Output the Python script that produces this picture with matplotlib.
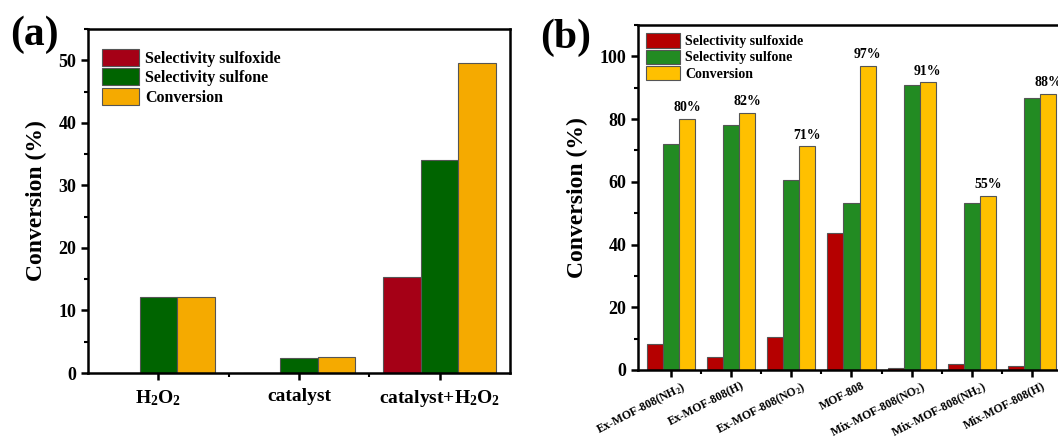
import matplotlib
matplotlib.use("Agg")
import matplotlib.pyplot as plt
from matplotlib.ticker import MultipleLocator, FixedLocator
from matplotlib.transforms import ScaledTranslation
import numpy as np

plt.rcParams['font.family'] = ['Liberation Serif', 'DejaVu Serif']
plt.rcParams['font.weight'] = 'bold'
plt.rcParams['axes.labelweight'] = 'bold'
plt.rcParams['mathtext.fontset'] = 'custom'
plt.rcParams['mathtext.rm'] = 'Liberation Serif:bold'
plt.rcParams['mathtext.it'] = 'Liberation Serif:bold'
plt.rcParams['mathtext.bf'] = 'Liberation Serif:bold'

series_names = ['Selectivity sulfoxide', 'Selectivity sulfone', 'Conversion']

# panel (a)
cats_a = ['H$_2$O$_2$', 'catalyst', 'catalyst+H$_2$O$_2$']
sulfoxide_a = [0, 0, 15.4]
sulfone_a = [12.2, 2.4, 34.1]
conversion_a = [12.2, 2.5, 49.6]

# panel (b)
cats_b = ['Ex-MOF-808(NH$_2$)', 'Ex-MOF-808(H)', 'Ex-MOF-808(NO$_2$)', 'MOF-808',
          'Mix-MOF-808(NO$_2$)', 'Mix-MOF-808(NH$_2$)', 'Mix-MOF-808(H)']
sulfoxide_b = [8.3, 4.1, 10.5, 43.7, 0.6, 1.9, 1.3]
sulfone_b = [71.9, 78.0, 60.6, 53.3, 91.0, 53.3, 86.7]
conversion_b = [80.0, 82.0, 71.3, 97.0, 91.7, 55.5, 88.0]
conv_labels_b = ['80%', '82%', '71%', '97%', '91%', '55%', '88%']

colors_a = ['#A50016', '#006400', '#F5AA00']
colors_b = ['#B50000', '#228B22', '#FFC000']

fig = plt.figure(figsize=(10.58, 4.38), dpi=100)
ax_a = fig.add_axes([88/1058, 1 - 373/438, 422/1058, 344/438])
ax_b = fig.add_axes([638/1058, 1 - 370/438, 430/1058, 345/438])


def style_axes(ax):
    for sp in ax.spines.values():
        sp.set_linewidth(1.8)
    ax.tick_params(which='major', direction='out', length=5, width=1.8)
    ax.tick_params(which='minor', direction='out', length=3, width=1.5)


def draw_groups(ax, data, colors, w=0.8 / 3):
    x = np.arange(len(data[0]))
    bars = []
    for i, (vals, c, name) in enumerate(zip(data, colors, series_names)):
        b = ax.bar(x + (i - 1) * w, vals, w, color=c, edgecolor='#555555',
                   linewidth=0.8, label=name)
        bars.append(b)
    return x, bars


# ---- (a)
x, _ = draw_groups(ax_a, [sulfoxide_a, sulfone_a, conversion_a], colors_a)
ax_a.set_xlim(-0.5, 2.5)
ax_a.set_ylim(0, 55)
ax_a.set_xticks(x)
ax_a.set_xticklabels(cats_a, fontsize=14)
ax_a.xaxis.set_minor_locator(FixedLocator([0.5, 1.5]))
ax_a.yaxis.set_major_locator(MultipleLocator(10))
ax_a.yaxis.set_minor_locator(MultipleLocator(5))
ax_a.tick_params(axis='y', labelsize=13)
style_axes(ax_a)
ax_a.tick_params(axis='x', which='major', pad=6)
ax_a.set_ylabel('Conversion (%)', fontsize=17, labelpad=8)
ax_a.legend(loc='upper left', bbox_to_anchor=(0.01, 0.97), frameon=False,
            fontsize=11.5, handlelength=2.3, handleheight=1.25,
            handletextpad=0.4, labelspacing=0.1, borderaxespad=0.2)
fig.text(10/1058, 1 - 35/438, '(a)', fontsize=30, va='center', ha='left')

# ---- (b)
x, bars = draw_groups(ax_b, [sulfoxide_b, sulfone_b, conversion_b], colors_b)
for rect, lab in zip(bars[2], conv_labels_b):
    ax_b.text(rect.get_x() + rect.get_width() / 2, rect.get_height() + 1.5, lab,
              ha='center', va='bottom', fontsize=10)
ax_b.set_xlim(-0.55, 6.6)
ax_b.set_ylim(0, 110)
ax_b.set_xticks(x)
ax_b.xaxis.set_minor_locator(FixedLocator(np.arange(len(cats_b)) + 0.5))
ax_b.yaxis.set_major_locator(MultipleLocator(20))
ax_b.yaxis.set_minor_locator(MultipleLocator(10))
ax_b.tick_params(axis='y', labelsize=13)
style_axes(ax_b)
ax_b.set_xticklabels(cats_b, fontsize=8.5, rotation=27, ha='right',
                     rotation_mode='anchor')
# nudge rotated labels so their ends sit right of the tick, as in the original
shift = ScaledTranslation(10/100, 2/100, fig.dpi_scale_trans)
for lbl in ax_b.get_xticklabels():
    lbl.set_transform(lbl.get_transform() + shift)
ax_b.set_ylabel('Conversion (%)', fontsize=17, labelpad=8)
ax_b.legend(loc='upper left', bbox_to_anchor=(0.0, 1.0), frameon=False,
            fontsize=10, handlelength=2.4, handleheight=1.2,
            handletextpad=0.4, labelspacing=0.1, borderaxespad=0.2)
fig.text(540/1058, 1 - 38/438, '(b)', fontsize=30, va='center', ha='left')

fig.savefig('out.png', dpi=100)
